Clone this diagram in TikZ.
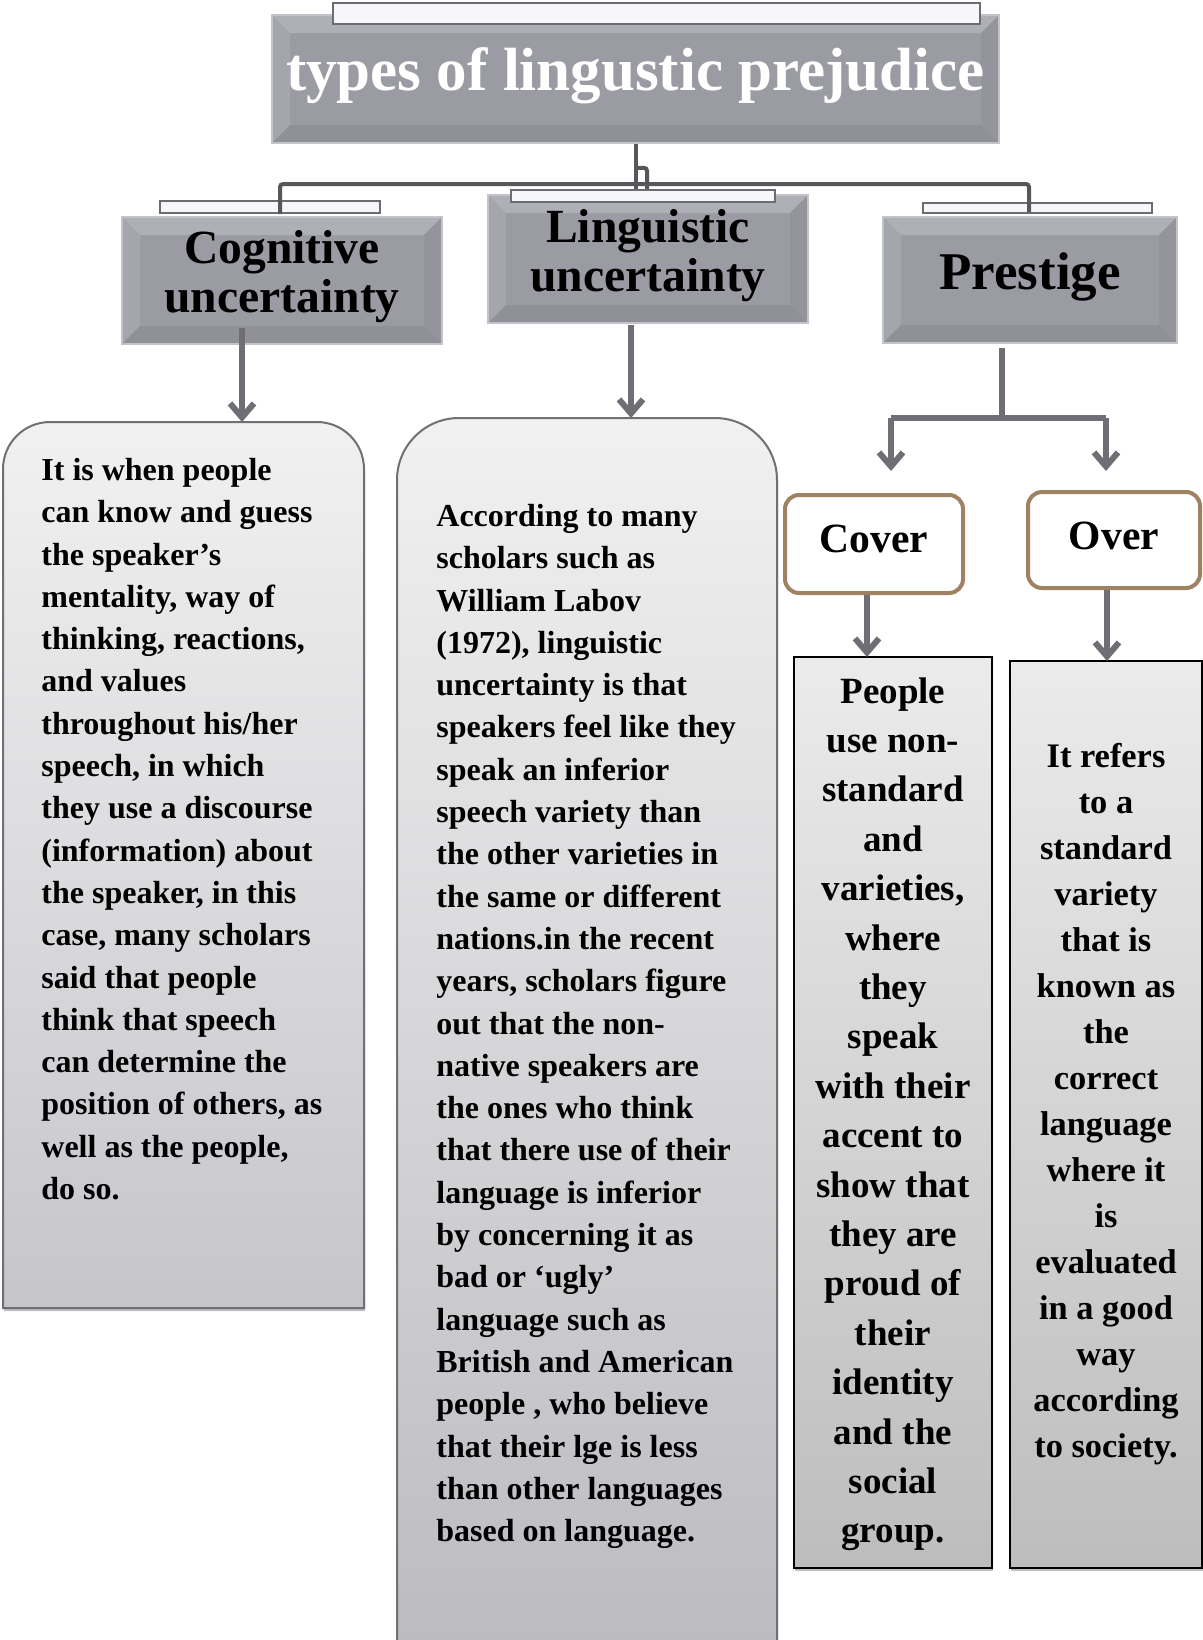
\documentclass[tikz,border=0pt]{standalone}
\usepackage{fontspec}
\setmainfont{Liberation Serif}
\usetikzlibrary{arrows.meta,calc,shadows}

\definecolor{bevface}{HTML}{9B9BA3}
\definecolor{bevtop}{HTML}{AFAFB7}
\definecolor{bevleft}{HTML}{A5A5AD}
\definecolor{bevright}{HTML}{94949C}
\definecolor{bevbot}{HTML}{909098}
\definecolor{bevrim}{HTML}{C3C3CA}
\definecolor{barfill}{HTML}{F7F7FB}
\definecolor{baredge}{HTML}{6B6B72}
\definecolor{connline}{HTML}{56565B}
\definecolor{arrline}{HTML}{6E6E74}
\definecolor{pnltop}{HTML}{F1F1F1}
\definecolor{pnlbot}{HTML}{C6C5CA}
\definecolor{pnledge}{HTML}{6F6F74}
\definecolor{subtop}{HTML}{EBEBEB}
\definecolor{subbot}{HTML}{BDBDBD}
\definecolor{tagedge}{HTML}{9E8262}

\begin{document}
\begin{tikzpicture}[x=0.5pt,y=-0.5pt,
  bevel/.style={draw=bevrim, line width=0.8pt, fill=bevface, inner sep=0pt,
    path picture={
      \fill[bevtop] (path picture bounding box.north west) -- (path picture bounding box.north east)
        -- ([shift={(-18,18)}]path picture bounding box.north east) -- ([shift={(18,18)}]path picture bounding box.north west) -- cycle;
      \fill[bevleft] (path picture bounding box.north west) -- ([shift={(18,18)}]path picture bounding box.north west)
        -- ([shift={(18,-18)}]path picture bounding box.south west) -- (path picture bounding box.south west) -- cycle;
      \fill[bevright] (path picture bounding box.north east) -- (path picture bounding box.south east)
        -- ([shift={(-18,-18)}]path picture bounding box.south east) -- ([shift={(-18,18)}]path picture bounding box.north east) -- cycle;
      \fill[bevbot] (path picture bounding box.south west) -- ([shift={(18,-18)}]path picture bounding box.south west)
        -- ([shift={(-18,-18)}]path picture bounding box.south east) -- (path picture bounding box.south east) -- cycle;
    }},
  hdrfont/.style={inner sep=0pt, font=\fontsize{23.8}{24.5}\selectfont\bfseries, align=center},
  bar/.style={draw=baredge, fill=barfill, line width=1.2pt, inner sep=0pt},
  conn/.style={draw=connline, line width=2pt, rounded corners=1.5pt},
  arrline/.style={draw=arrline, line width=3pt},
  arr/.style={arrline, -{Straight Barb[length=7pt,width=12pt]}},
  softshadow/.style={drop shadow={shadow xshift=0.5pt, shadow yshift=-1.5pt, opacity=0.25, fill=black}},
  panelbox/.style={inner sep=0pt, outer sep=0pt},
  panel/.style={draw=pnledge, line width=1pt, top color=pnltop, bottom color=pnlbot, softshadow},
  subbox/.style={draw=black, line width=1pt, top color=subtop, bottom color=subbot, inner sep=0pt, outer sep=0pt, softshadow},
  tag/.style={draw=tagedge, line width=2pt, fill=white, rounded corners=7pt, inner sep=0pt},
  tagfont/.style={inner sep=0pt, font=\fontsize{20.8}{22}\selectfont\bfseries},
  bodytext/.style={inner sep=0pt, anchor=north west, align=left, font=\fontsize{16}{21.15}\selectfont\bfseries},
  covertxt/.style={inner sep=0pt, anchor=north, align=center, font=\fontsize{18.5}{24.7}\selectfont\bfseries},
  overtxt/.style={inner sep=0pt, anchor=north, align=center, font=\fontsize{17.2}{23}\selectfont\bfseries}
]
\path[use as bounding box, fill=white] (0,0) rectangle (1203,1640);

% text panels
\node[panelbox, minimum width=180.5pt, minimum height=443pt] (cogtextbox) at (183.5,865) {};
\draw[panel] (cogtextbox.south west) [rounded corners=23.5pt] -- (cogtextbox.north west)
  -- (cogtextbox.north east) [sharp corners] -- (cogtextbox.south east) -- cycle;
\node[panelbox, minimum width=190pt, minimum height=613.5pt] (lingtextbox) at (587,1031.5) {};
\draw[panel, bottom color=pnlbot!95!black] (lingtextbox.south west) [rounded corners=31pt] -- (lingtextbox.north west)
  -- (lingtextbox.north east) [sharp corners] -- (lingtextbox.south east) -- cycle;
\node[subbox, minimum width=99pt, minimum height=455.5pt] (covertextbox) at (893,1112.5) {};
\node[subbox, minimum width=96pt, minimum height=453.5pt] (overtextbox) at (1106,1114.5) {};

% heading boxes
\node[bevel, minimum width=363.5pt, minimum height=64pt] (title) at (635.5,79) {};
\node[bevel, minimum width=160pt, minimum height=63.5pt] (cog) at (282,280.5) {};
\node[bevel, minimum width=160pt, minimum height=64pt] (ling) at (648,259) {};
\node[bevel, minimum width=147pt, minimum height=63pt] (pres) at (1030,280) {};

\node[bar, minimum width=323.5pt, minimum height=10.5pt] (titlebar) at (656.5,13.5) {};
\node[bar, minimum width=110pt, minimum height=6pt] (cogbar) at (270,207) {};
\node[bar, minimum width=132pt, minimum height=6pt] (lingbar) at (643,196) {};
\node[bar, minimum width=114.5pt, minimum height=5pt] (presbar) at (1037.5,208) {};

\node[tag, minimum width=89pt, minimum height=49pt] (cover) at (874,544) {};
\node[tag, minimum width=86pt, minimum height=48pt] (over) at (1114,540) {};

% heading texts
\node[inner sep=0pt, text=white, font=\fontsize{30.5}{32}\selectfont\bfseries] (titletext)
  at ($(title.center)+(0,-3)$) {types of lingustic prejudice};
\node[hdrfont] (cogtext) at ($(cog.center)+(0,-4)$) {Cognitive\\uncertainty};
\node[hdrfont] (lingtext) at ($(ling.center)+(0,-3)$) {Linguistic\\uncertainty};
\node[inner sep=0pt, font=\fontsize{26.5}{28}\selectfont\bfseries] (prestext)
  at ($(pres.center)+(0,-3)$) {Prestige};
\node[tagfont] (covertext) at ($(cover.center)+(0,-5)$) {Cover};
\node[tagfont] (overtext) at ($(over.center)+(0,-4)$) {Over};

% connectors from the title
\coordinate (hub) at (636,184);
\draw[conn] (title.south) -- (title.south |- lingbar.north);
\draw[conn] ($(title.south)+(0,24)$) -| ($(lingbar.north)+(4,0)$);
\draw[conn] ($(cog.north)+(-2,-2)$) |- (hub) -| ($(pres.north)+(-1,-4)$);

% arrows into the panels
\coordinate (cogfoot) at ($(cog.south)+(-40,-17)$);
\draw[arr] (cogfoot) -- (cogfoot |- cogtextbox.north);
\coordinate (lingfoot) at ($(ling.south)+(-17,1)$);
\draw[arr] (lingfoot) -- (lingfoot |- lingtextbox.north);

\coordinate (presfoot) at ($(pres.south)+(-28,4)$);
\coordinate (presjoin) at ($(pres.south)+(-28,77)$);
\coordinate (coverdrop) at ($(cover.north)+(17,-75)$);
\coordinate (overdrop) at ($(over.north)+(-8,-72)$);
\draw[arrline] (presfoot) -- (presjoin);
\draw[arrline] (coverdrop) -- (overdrop);
\draw[arr] (coverdrop) -- ($(cover.north)+(17,-22)$);
\draw[arr] (overdrop) -- ($(over.north)+(-8,-19)$);

\coordinate (coverfoot) at ($(cover.south)+(-7,0)$);
\draw[arr] (coverfoot) -- (coverfoot |- covertextbox.north);
\coordinate (overfoot) at ($(over.south)+(-7,0)$);
\draw[arr] (overfoot) -- (overfoot |- overtextbox.north);

% panel texts
\node[bodytext] (cogbody) at (41,450.4) {\strut It is when people\\
can know and guess\\
the speaker’s\\
mentality, way of\\
thinking, reactions,\\
and values\\
throughout his/her\\
speech, in which\\
they use a discourse\\
(information) about\\
the speaker, in this\\
case, many scholars\\
said that people\\
think that speech\\
can determine the\\
position of others, as\\
well as the people,\\
do so.};

\node[bodytext] (lingbody) at (436,496.4) {\strut According to many\\
scholars such as\\
William Labov\\
(1972), linguistic\\
uncertainty is that\\
speakers feel like they\\
speak an inferior\\
speech variety than\\
the other varieties in\\
the same or different\\
nations.in the recent\\
years, scholars figure\\
out that the non-\\
native speakers are\\
the ones who think\\
that there use of their\\
language is inferior\\
by concerning it as\\
bad or ‘ugly’\\
language such as\\
British and American\\
people , who believe\\
that their lge is less\\
than other languages\\
based on language.};

\node[covertxt] (coverbody) at (893,668) {\strut People\\
use non-\\
standard\\
and\\
varieties,\\
where\\
they\\
speak\\
with their\\
accent to\\
show that\\
they are\\
proud of\\
their\\
identity\\
and the\\
social\\
group.};

\node[overtxt] (overbody) at (1106,734.5) {\strut It refers\\
to a\\
standard\\
variety\\
that is\\
known as\\
the\\
correct\\
language\\
where it\\
is\\
evaluated\\
in a good\\
way\\
according\\
to society.};
\end{tikzpicture}
\end{document}
